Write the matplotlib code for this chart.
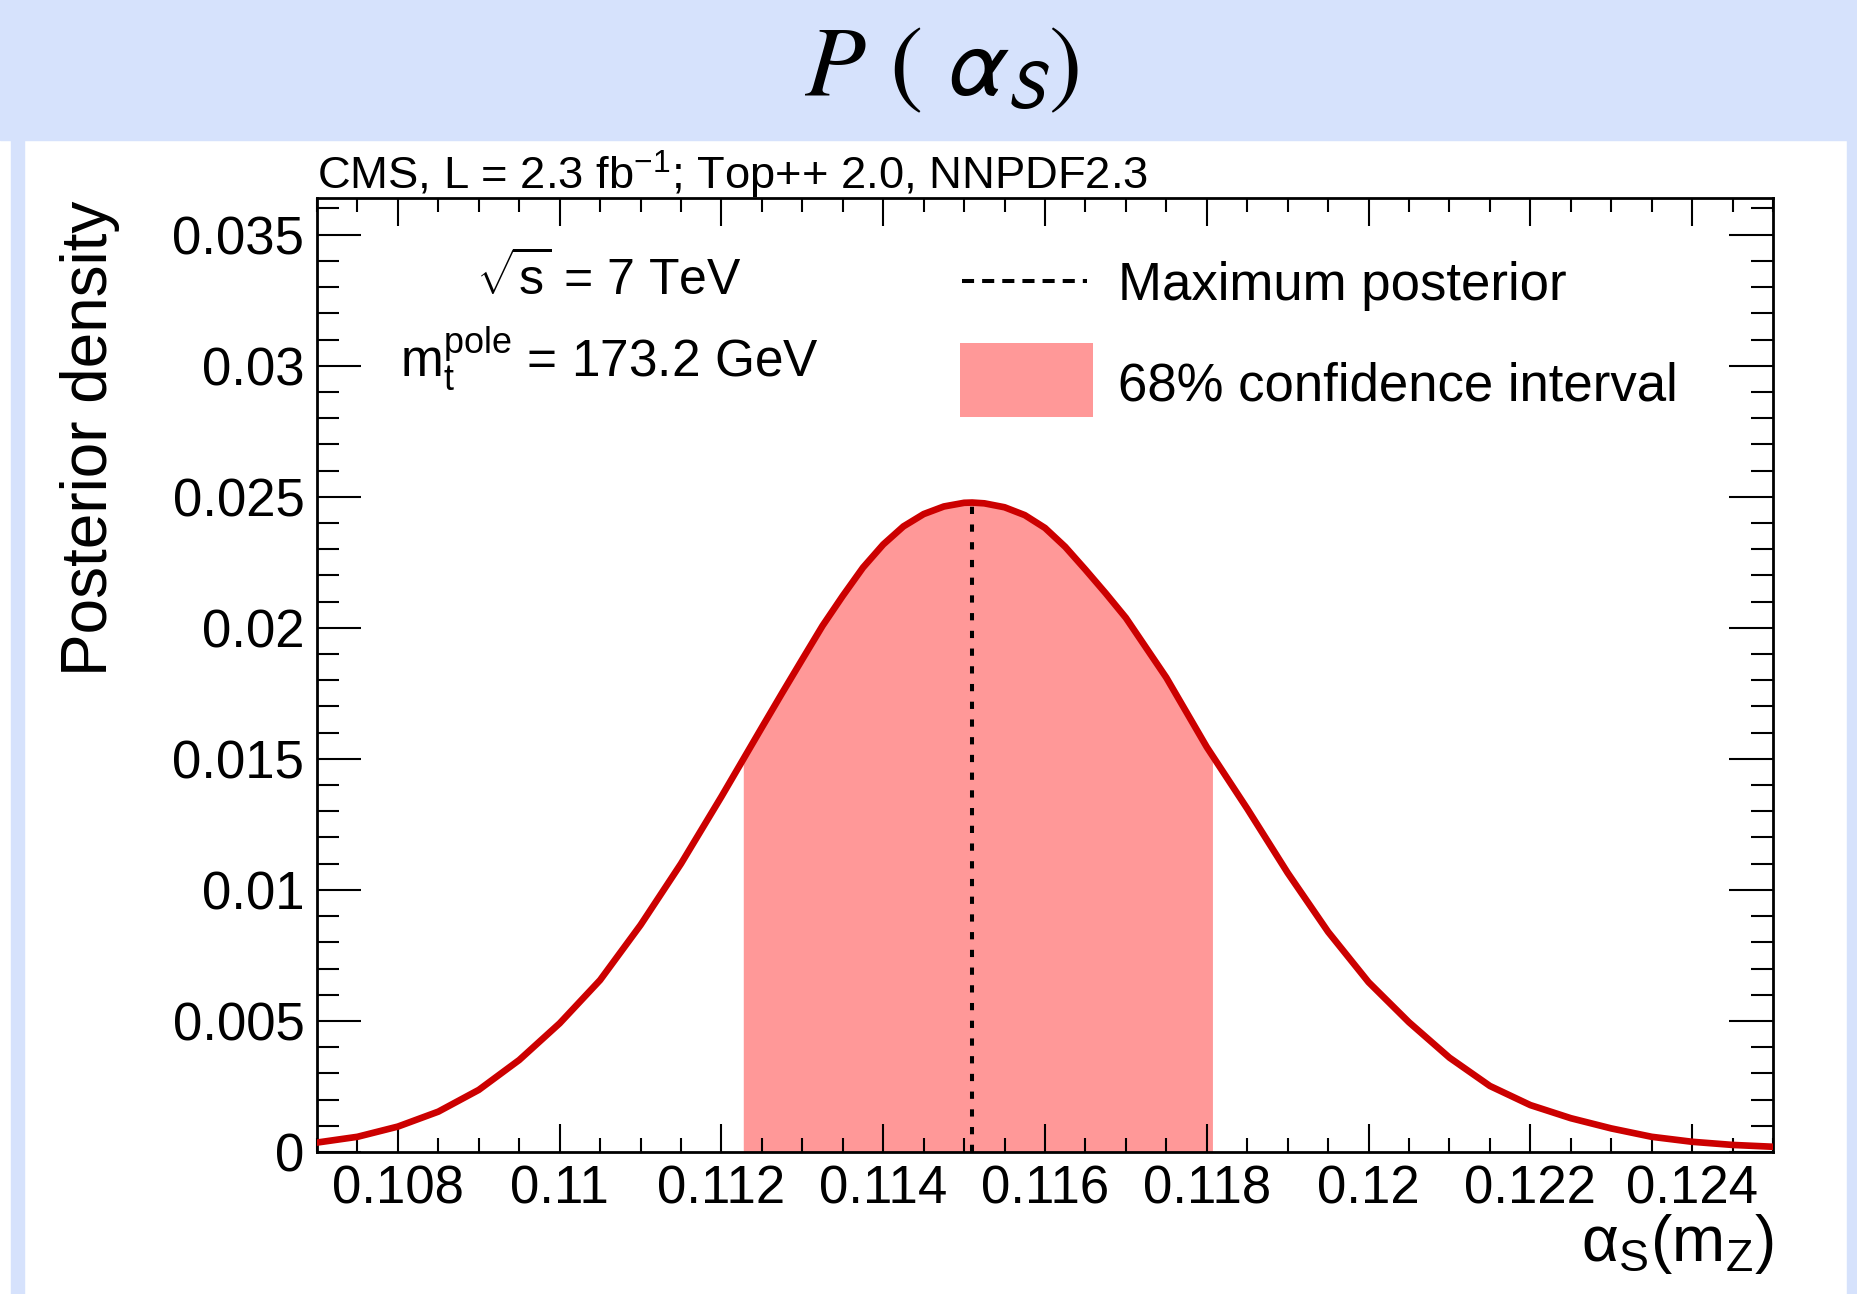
import numpy as np
import matplotlib
matplotlib.use("Agg")
import matplotlib.pyplot as plt
from matplotlib.patches import Rectangle
from matplotlib.ticker import MultipleLocator, FuncFormatter

# --------------------------------------------------------------------------------
# DATA
# --------------------------------------------------------------------------------
alpha_s = [0.1070, 0.1075, 0.1080, 0.1085, 0.1090, 0.1095, 0.1100, 0.1105, 0.1110, 0.1115,
           0.1120, 0.1125, 0.11275, 0.1130, 0.11325, 0.1135, 0.11375, 0.1140, 0.11425, 0.1145,
           0.11475, 0.1150, 0.1151, 0.11525, 0.1155, 0.11575, 0.1160, 0.11625, 0.1165, 0.11675,
           0.1170, 0.1175, 0.1180, 0.1185, 0.1190, 0.1195, 0.1200, 0.1205, 0.1210, 0.1215,
           0.1220, 0.1225, 0.1230, 0.1235, 0.1240, 0.1245, 0.1250]
density = [0.00036, 0.00058, 0.00097, 0.00154, 0.00237, 0.00351, 0.00491, 0.00656, 0.00866, 0.01100,
           0.01356, 0.01620, 0.01751, 0.01880, 0.02008, 0.02122, 0.02230, 0.02318, 0.02387, 0.02434,
           0.02463, 0.02477, 0.02478, 0.02475, 0.02460, 0.02430, 0.02381, 0.02309, 0.02222, 0.02132,
           0.02038, 0.01810, 0.01545, 0.01310, 0.01065, 0.00840, 0.00648, 0.00495, 0.00360, 0.00252,
           0.00179, 0.00129, 0.00090, 0.00058, 0.00039, 0.00027, 0.00020]

max_posterior = 0.1151
ci68_low = 0.11227
ci68_high = 0.11807

header = r"CMS, L = 2.3 fb$^{\mathrm{-1}}$; Top++ 2.0, NNPDF2.3"
label_sqrts = r"$\sqrt{\mathrm{s}}$ = 7 TeV"
label_mt = r"$\mathrm{m}_{\mathrm{t}}^{\mathrm{pole}}$ = 173.2 GeV"
legend_labels = ["Maximum posterior", "68% confidence interval"]

# --------------------------------------------------------------------------------
# STYLE
# --------------------------------------------------------------------------------
plt.rcParams['font.family'] = ['Liberation Sans', 'DejaVu Sans']
plt.rcParams['mathtext.fontset'] = 'custom'
plt.rcParams['mathtext.rm'] = 'Liberation Sans'
plt.rcParams['mathtext.it'] = 'Liberation Sans:italic'
plt.rcParams['mathtext.bf'] = 'Liberation Sans:bold'

band_blue = "#d6e2fc"
curve_red = "#cc0000"
fill_red = "#ff9898"

W, H = 1857, 1294
fig = plt.figure(figsize=(W / 100, H / 100), dpi=100)
fig.patch.set_facecolor("white")

# page background (slide-like frame)
fig.patches.append(Rectangle((0, 1 - 140 / H), 1, 140 / H, transform=fig.transFigure,
                             color=band_blue, zorder=0))
fig.patches.append(Rectangle((11 / W, 0), 13 / W, 1 - 140 / H, transform=fig.transFigure,
                             color=band_blue, zorder=0))
fig.patches.append(Rectangle((1847 / W, 0), 10 / W, 1 - 140 / H, transform=fig.transFigure,
                             color=band_blue, zorder=0))

fig.text(0.507, 1 - 95 / H, r"$P\ (\ \mathsf{\alpha}_{\mathsf{S}})$", fontsize=72,
         ha="center", va="baseline", math_fontfamily="stix")

ax = fig.add_axes([317 / W, 1 - 1152 / H, 1456 / W, 954 / H])

# --------------------------------------------------------------------------------
# PLOT
# --------------------------------------------------------------------------------
x = np.array(alpha_s)
y = np.array(density)
inside = (x > ci68_low) & (x < ci68_high)
x_fill = np.concatenate([[ci68_low], x[inside], [ci68_high]])
y_fill = np.interp(x_fill, x, y)
ax.fill_between(x_fill, 0, y_fill, color=fill_red, lw=0, zorder=1)

ax.plot(x, y, color=curve_red, lw=4.8, zorder=3, solid_joinstyle="round")

peak = np.interp(max_posterior, x, y)
ax.plot([max_posterior, max_posterior], [0, peak], color="black", lw=2.9,
        dashes=(1.8, 2.6), zorder=2)

ax.set_xlim(0.107, 0.125)
ax.set_ylim(0, 0.0364)

ax.xaxis.set_major_locator(MultipleLocator(0.002))
ax.xaxis.set_minor_locator(MultipleLocator(0.0005))
ax.yaxis.set_major_locator(MultipleLocator(0.005))
ax.yaxis.set_minor_locator(MultipleLocator(0.001))
fmt = FuncFormatter(lambda v, p: "%g" % round(v, 6))
ax.xaxis.set_major_formatter(fmt)
ax.yaxis.set_major_formatter(fmt)

ax.tick_params(which="both", direction="in", top=True, right=True, width=1.5, labelsize=38)
ax.tick_params(axis="x", which="major", length=20, pad=9)
ax.tick_params(axis="x", which="minor", length=10)
ax.tick_params(axis="y", which="major", length=32, pad=9)
ax.tick_params(axis="y", which="minor", length=16)
for s in ax.spines.values():
    s.set_linewidth(2)

# labels
ax.text(-0.156, 0.997, "Posterior density", rotation=90, ha="center", va="top",
        fontsize=46, transform=ax.transAxes)
ax.text(1.0, -0.114, r"$\mathrm{\alpha}_{\mathrm{S}}(\mathrm{m}_{\mathrm{Z}})$", ha="right",
        va="baseline", fontsize=46, transform=ax.transAxes)
ax.text(0.0, 1.009, header, ha="left", va="baseline", fontsize=32.7, transform=ax.transAxes)

ax.text(0.2005, 0.898, label_sqrts, ha="center", va="baseline", fontsize=36,
        transform=ax.transAxes)
ax.text(0.2005, 0.813, label_mt, ha="center", va="baseline", fontsize=37,
        transform=ax.transAxes)

# legend drawn by hand
ax.plot([0.443, 0.5288], [0.913, 0.913], color="black", lw=2.9, dashes=(3.0, 2.0),
        transform=ax.transAxes, clip_on=False)
ax.add_patch(Rectangle((0.4416, 0.7704), 0.0914, 0.0776, transform=ax.transAxes,
                       color=fill_red, lw=0))
ax.text(0.550, 0.913, legend_labels[0], ha="left", va="center_baseline", fontsize=38,
        transform=ax.transAxes)
ax.text(0.550, 0.808, legend_labels[1], ha="left", va="center_baseline", fontsize=38,
        transform=ax.transAxes)

fig.savefig("out.png", dpi=100)
